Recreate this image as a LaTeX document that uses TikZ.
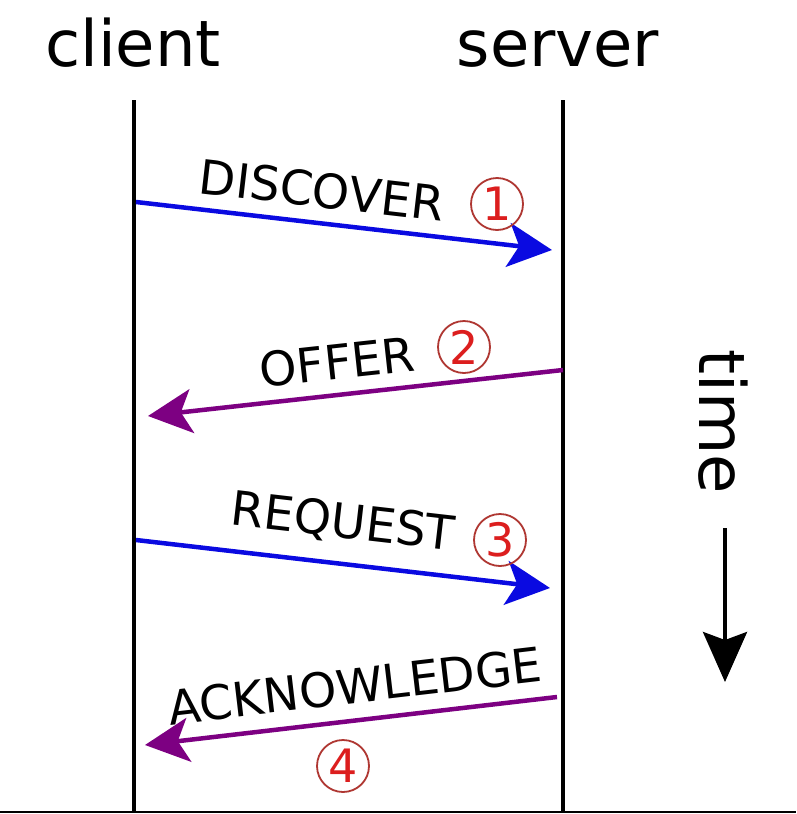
\documentclass[tikz,border=0pt]{standalone}
\usepackage{fontspec}
\setmainfont{DejaVu Sans}
\usetikzlibrary{arrows.meta}
\definecolor{msgblue}{RGB}{10,10,225}
\definecolor{msgpurple}{RGB}{125,0,130}
\definecolor{numred}{RGB}{220,30,30}
\definecolor{ringred}{RGB}{175,55,50}
\begin{document}
\begin{tikzpicture}[x=1pt,y=-1pt,
  actor/.style={font=\fontsize{64}{70}\selectfont, anchor=base, inner sep=0pt},
  lifeline/.style={line width=3.8pt, black},
  msg/.style={line width=4.5pt, -{Stealth[length=44pt,width=44pt,inset=11pt]}},
  msglabel/.style={font=\fontsize{47.5}{52}\selectfont, inner sep=0pt},
  num/.style={circle, draw=ringred, line width=1.8pt, text=numred, minimum size=52pt, inner sep=0pt, font=\fontsize{46}{50}\selectfont},
  timearrow/.style={line width=4pt, -{Stealth[length=50pt,width=44pt,inset=8pt]}}]
\useasboundingbox (0,0) rectangle (796,814);
\fill[white] (0,0) rectangle (796,814);
% actors
\node[actor] (client) at (133,66) {client};
\node[actor] (server) at (558,66) {server};
% lifelines
\coordinate (ctop) at (134,100);
\coordinate (cbot) at (134,812);
\coordinate (stop) at (563,100);
\coordinate (sbot) at (563,812);
\draw[lifeline] (ctop) -- (cbot);
\draw[lifeline] (stop) -- (sbot);
\coordinate (bl) at (0,812);
\coordinate (br) at (796,812);
\draw[line width=2.5pt] (bl) -- (br);
% message endpoints
\coordinate (d1) at (136,202);
\coordinate (d2) at (552,250);
\coordinate (o1) at (563,370);
\coordinate (o2) at (148,416);
\coordinate (r1) at (136,540);
\coordinate (r2) at (550,588);
\coordinate (a1) at (557,697);
\coordinate (a2) at (145,745);
% messages
\draw[msg, msgblue] (d1) -- (d2);
\draw[msg, msgpurple] (o1) -- (o2);
\draw[msg, msgblue] (r1) -- (r2);
\draw[msg, msgpurple] (a1) -- (a2);
% labels
\node[msglabel, rotate=-6.6] (ldisc) at (322,190) {DISCOVER};
\node[msglabel, rotate=6.2] (loffer) at (337,362) {OFFER};
\node[msglabel, rotate=-6.6] (lreq) at (343,523) {REQUEST};
\node[msglabel, rotate=6.7] (lack) at (355,686) {ACKNOWLEDGE};
% numbers
\node[num] (n1) at (497,204) {1};
\node[num] (n2) at (464,347) {2};
\node[num] (n3) at (500,540) {3};
\node[num] (n4) at (343,766) {4};
% time
\node[font=\fontsize{64}{70}\selectfont, rotate=-90, inner sep=0pt] (time) at (723,422) {time};
\coordinate (t1) at (725,528);
\coordinate (t2) at (725,682);
\draw[timearrow] (t1) -- (t2);
\end{tikzpicture}
\end{document}
